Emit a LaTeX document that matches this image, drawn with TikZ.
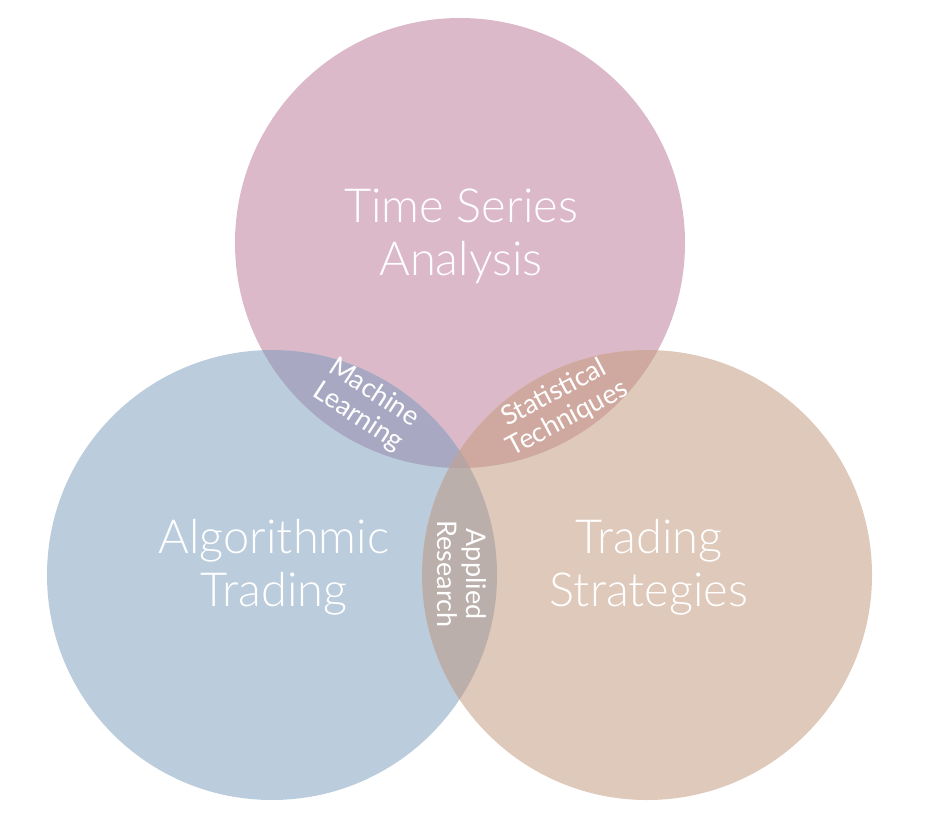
\documentclass[tikz,border=0pt]{standalone}
\usepackage{fontspec}
\setmainfont{Lato Light}
\newfontfamily\labelfont{Lato}
\definecolor{cpink}{HTML}{DCB9C9}
\definecolor{cblue}{HTML}{BBCCDC}
\definecolor{ctan}{HTML}{DEC9BB}
\definecolor{cml}{HTML}{A9A8C2}
\definecolor{cst}{HTML}{CFA89F}
\definecolor{car}{HTML}{BAAFAA}
\definecolor{cctr}{HTML}{B8A4A3}
\begin{document}
\begin{tikzpicture}[x=1pt,y=-1pt,
  big/.style={text=white,font=\fontsize{47}{53}\selectfont,align=center},
  small/.style={text=white,font=\labelfont\fontsize{27}{29}\selectfont,align=center,inner sep=0pt}]
\useasboundingbox (0,0) rectangle (925,820);
\fill[white] (0,0) rectangle (925,820);
\def\circTop{(460,243) circle[radius=225]}
\def\circLeft{(272,575) circle[radius=225]}
\def\circRight{(647,575) circle[radius=225]}
\fill[cpink] \circTop;
\fill[cblue] \circLeft;
\fill[ctan] \circRight;
\begin{scope}\clip \circTop; \fill[cml] \circLeft; \end{scope}
\begin{scope}\clip \circTop; \fill[cst] \circRight; \end{scope}
\begin{scope}\clip \circLeft; \fill[car] \circRight; \end{scope}
\begin{scope}\clip \circTop; \clip \circLeft; \fill[cctr] \circRight; \end{scope}
\node[big] (tsa) at (461,236) {Time Series\\Analysis};
\node[big] (alg) at (274,567) {Algorithmic\\Trading};
\node[big] (trs) at (649,567) {Trading\\Strategies};
\node[small,rotate=-33] (ml) at (366,405) {Machine\\Learning};
\node[small,rotate=28] (st) at (561,406) {Statistical\\Techniques};
\node[small,rotate=-90] (ar) at (462,574) {Applied\\Research};
\end{tikzpicture}
\end{document}
